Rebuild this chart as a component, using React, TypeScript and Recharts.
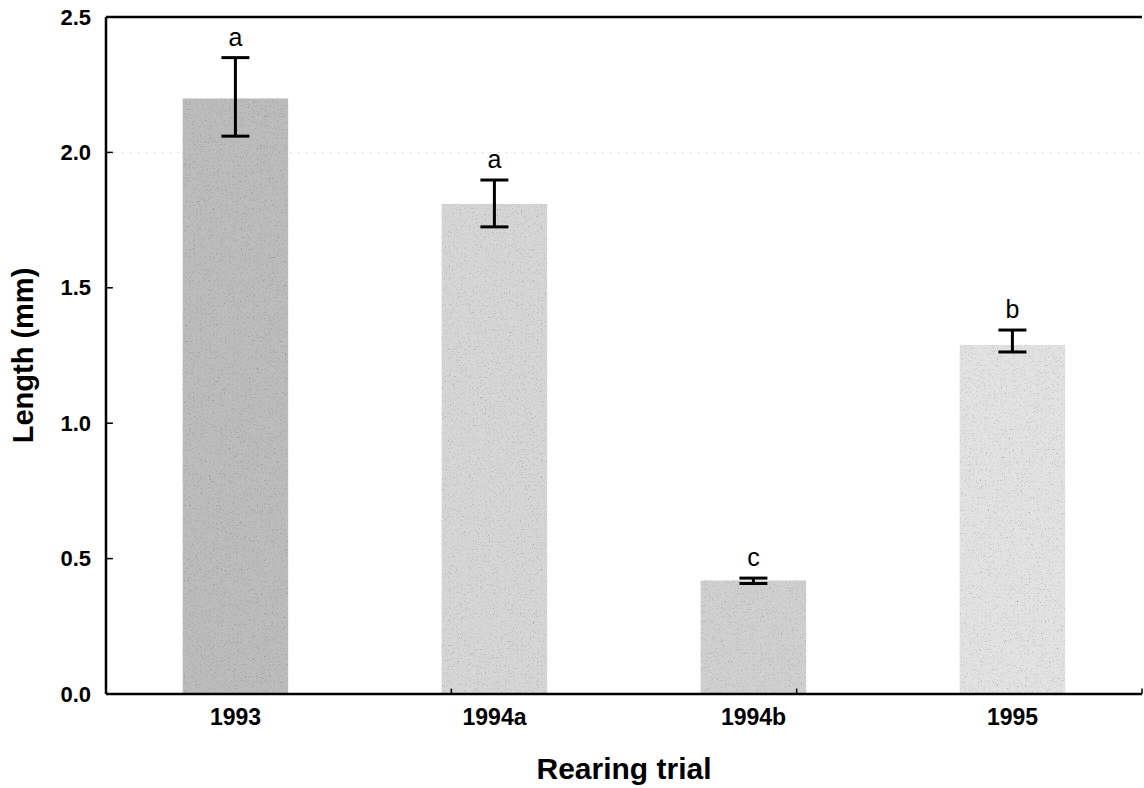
import React from "react";
import {
  ComposedChart,
  Bar,
  Cell,
  ErrorBar,
  XAxis,
  YAxis,
  ReferenceLine,
} from "recharts";

const categories = ["1993", "1994a", "1994b", "1995"];
const meanLength = [2.2, 1.81, 0.42, 1.29];
const errLow = [2.06, 1.725, 0.408, 1.263];
const errHigh = [2.35, 1.898, 0.428, 1.344];
const groupLetters = ["a", "a", "c", "b"];
const yTicks = [0, 0.5, 1.0, 1.5, 2.0, 2.5];
const barFills = ["#bcbcbc", "#d6d6d6", "#d0d0d0", "#e2e2e2"];

const data = categories.map((name, i) => ({
  name,
  length: meanLength[i],
  err: [meanLength[i] - errLow[i], errHigh[i] - meanLength[i]],
  hi: errHigh[i],
  letter: groupLetters[i],
}));

const FONT = 'Arial, "Liberation Sans", Helvetica, sans-serif';

const YTick = ({ x, y, payload }: any) => (
  <text x={x} y={y} textAnchor="end" dominantBaseline="central" fontFamily={FONT} fontWeight="bold" fontSize={22} fill="#000">
    {Number(payload.value).toFixed(1)}
  </text>
);

const XTick = ({ x, y, payload }: any) => (
  <text x={x} y={y} dy="0.71em" textAnchor="middle" fontFamily={FONT} fontWeight="bold" fontSize={23} fill="#000">
    {payload.value}
  </text>
);

// letter above each error bar, placed from the bar's own geometry
const LetterLabel = (props: any) => {
  const { x, y, width, height, index } = props;
  const d = data[index];
  if (!d) return null;
  const pxPerUnit = height / d.length;
  const yHi = y + height - d.hi * pxPerUnit;
  return (
    <text x={x + width / 2} y={yHi - 12} textAnchor="middle" fontFamily={FONT} fontSize={25} fill="#000">
      {d.letter}
    </text>
  );
};

const YLabel = (props: any) => {
  const vb = props.viewBox;
  const cx = vb.x + 23;
  const cy = vb.y + vb.height / 2;
  return (
    <text x={cx} y={cy} transform={`rotate(-90, ${cx}, ${cy})`} textAnchor="middle" dominantBaseline="central" fontFamily={FONT} fontWeight="bold" fontSize={29} fill="#000">
      Length (mm)
    </text>
  );
};

const boundaries = categories.slice(1).map((_, i) => i + 1);

export default function App() {
  return (
    <div style={{ position: "absolute", left: 0, top: 0, width: 1144, height: 788, background: "#fff" }}>
      <ComposedChart
        width={1144}
        height={788}
        data={data}
        margin={{ top: 17, right: 2, bottom: 0, left: 0 }}
        barCategoryGap="29.5%"
      >
        <defs>
          <filter id="grain" x="0" y="0" width="100%" height="100%">
            <feTurbulence type="fractalNoise" baseFrequency="0.75" numOctaves="2" seed="7" result="noise" />
            <feColorMatrix in="noise" type="matrix" values="0.7 0.7 0.7 0 0.02  0.7 0.7 0.7 0 0.02  0.7 0.7 0.7 0 0.02  0 0 0 0 1" result="gray" />
            <feBlend in="SourceGraphic" in2="gray" mode="multiply" result="mix" />
            <feComposite in="mix" in2="SourceGraphic" operator="in" />
          </filter>
        </defs>
        <XAxis
          dataKey="name"
          height={94}
          axisLine={{ stroke: "#000", strokeWidth: 2.5 }}
          tickLine={false}
          tickSize={0}
          tickMargin={15}
          tick={<XTick />}
          label={{ value: "Rearing trial", position: "insideBottom", offset: 9, fontFamily: FONT, fontWeight: "bold", fontSize: 30, fill: "#000" }}
        />
        <XAxis xAxisId="num" type="number" domain={[0, 4]} hide />
        <YAxis
          width={106}
          domain={[0, 2.5]}
          ticks={yTicks}
          axisLine={{ stroke: "#000", strokeWidth: 2.5 }}
          tickLine={false}
          tickSize={0}
          tickMargin={15}
          tick={<YTick />}
          label={{ content: <YLabel /> }}
        />
        {/* frame top and right */}
        <ReferenceLine xAxisId="num" y={2.5} stroke="#000" strokeWidth={2.5} />
        <ReferenceLine xAxisId="num" x={4} stroke="#000" strokeWidth={2.5} />
        {/* faint dotted line at 2.0 */}
        <ReferenceLine xAxisId="num" y={2.0} stroke="#c8c8c8" strokeDasharray="1 7" />
        {/* inward ticks */}
        {yTicks.slice(1, -1).map((t) => (
          <ReferenceLine key={"l" + t} xAxisId="num" segment={[{ x: 0, y: t }, { x: 0.02, y: t }]} stroke="#000" strokeWidth={1.5} />
        ))}
        {yTicks.slice(1, -1).map((t) => (
          <ReferenceLine key={"r" + t} xAxisId="num" segment={[{ x: 4, y: t }, { x: 3.98, y: t }]} stroke="#000" strokeWidth={1.5} />
        ))}
        {boundaries.map((b) => (
          <ReferenceLine key={"b" + b} xAxisId="num" segment={[{ x: b, y: 0 }, { x: b, y: 0.02 }]} stroke="#000" strokeWidth={1.5} />
        ))}
        <Bar dataKey="length" isAnimationActive={false} label={<LetterLabel />}>
          {data.map((d, i) => (
            <Cell key={d.name} fill={barFills[i]} filter="url(#grain)" />
          ))}
          <ErrorBar dataKey="err" width={14} stroke="#000" strokeWidth={3} direction="y" isAnimationActive={false} />
        </Bar>
      </ComposedChart>
    </div>
  );
}
